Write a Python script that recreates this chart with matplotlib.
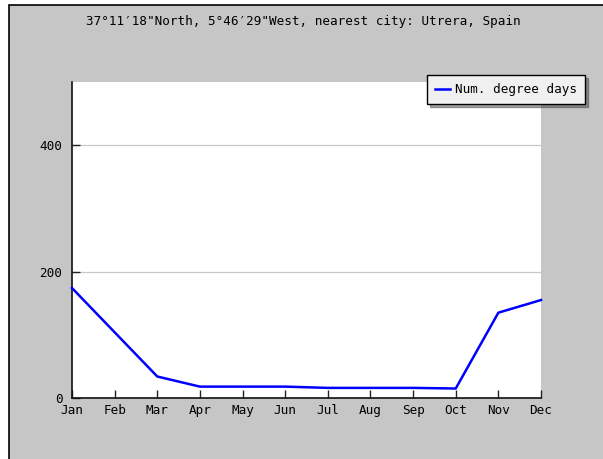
import matplotlib
matplotlib.use("Agg")
import matplotlib.pyplot as plt
from matplotlib.patches import Rectangle

months = ["Jan", "Feb", "Mar", "Apr", "May", "Jun", "Jul", "Aug", "Sep", "Oct", "Nov", "Dec"]
degree_days = [174, 104, 34, 18, 18, 18, 16, 16, 16, 15, 135, 155]
yticks = [0, 200, 400]
title = "37°11′18\"North, 5°46′29\"West, nearest city: Utrera, Spain"
legend_label = "Num. degree days"

FONT = ["DejaVu Sans Mono"]
FS = 9.1

fig = plt.figure(figsize=(6.03, 4.59), dpi=100)
fig.patch.set_facecolor("white")
W, H = 603, 459
# grey panel with black left/top border
fig.patches.append(Rectangle((9 / W, -0.1), 1.2, (H - 5) / H + 0.1, transform=fig.transFigure,
                             facecolor="#c6c6c6", edgecolor="black", linewidth=1.2, zorder=-10))

ax = fig.add_axes([72 / W, 1 - 398 / H, (541 - 72) / W, (398 - 82) / H])
ax.set_zorder(5)
ax.set_facecolor("white")
x = list(range(len(months)))
line, = ax.plot(x, degree_days, color="#0000ff", linewidth=1.8, label=legend_label, zorder=3,
                clip_on=False)
ax.set_xlim(0, 11)
ax.set_ylim(0, 500)
ax.set_xticks(x)
ax.set_xticklabels(months, fontfamily=FONT, fontsize=FS)
ax.set_yticks(yticks)
ax.set_yticklabels([str(v) for v in yticks], fontfamily=FONT, fontsize=FS)
for v in yticks[1:]:
    ax.axhline(v, color="#c8c8c8", linewidth=0.9, zorder=1)
ax.tick_params(axis="both", direction="in", length=6, width=1, color="#222222", pad=4)
ax.tick_params(axis="y", pad=7)
for s in ["top", "right"]:
    ax.spines[s].set_visible(False)
for s in ["left", "bottom"]:
    ax.spines[s].set_color("#111111")
    ax.spines[s].set_linewidth(1.2)

fig.text(303 / W, 1 - 21 / H, title, ha="center", va="center", fontfamily=FONT, fontsize=FS)

leg = fig.legend(handles=[line], loc="upper left", bbox_to_anchor=(427 / W, 1 - 75 / H),
                 bbox_transform=fig.transFigure, prop={"family": FONT, "size": FS},
                 frameon=True, fancybox=False, shadow=True, handlelength=1.2,
                 handletextpad=0.35, borderpad=0.65, borderaxespad=0)
leg.set_zorder(10)
leg.get_frame().set_edgecolor("black")
leg.get_frame().set_facecolor("#f0f0f0")
leg.get_frame().set_linewidth(1.0)

fig.savefig("out.png", dpi=100)
